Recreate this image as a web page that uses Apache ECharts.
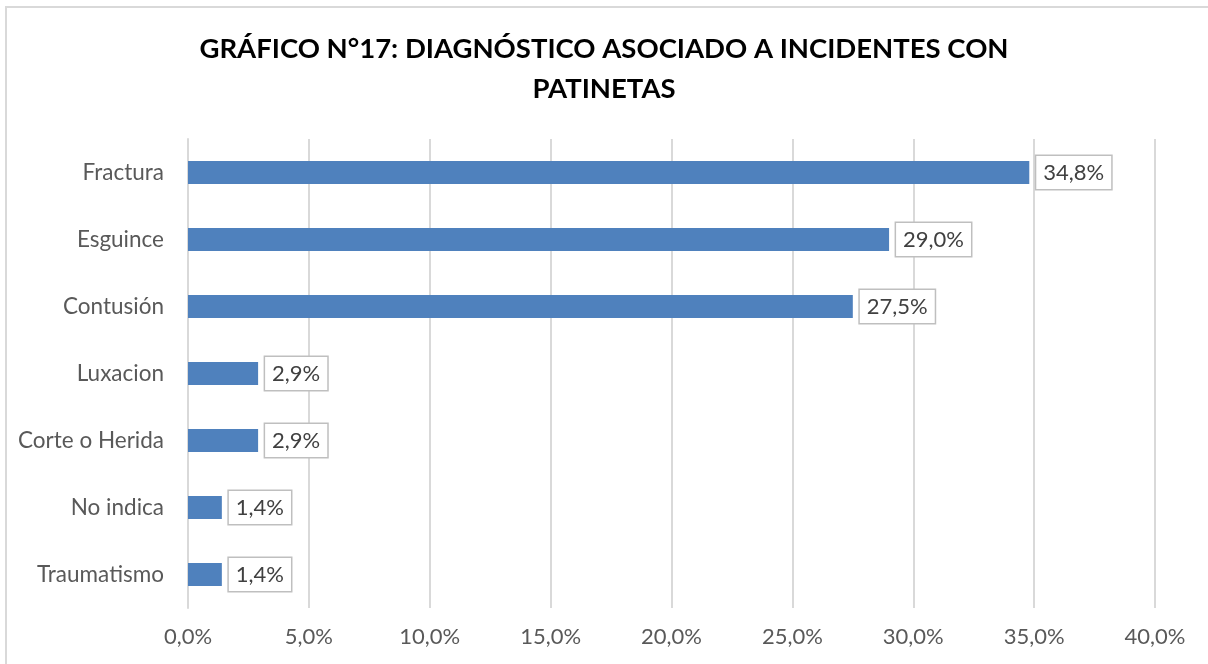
<!DOCTYPE html>
<html><head><meta charset="utf-8">
<script src="https://cdn.jsdelivr.net/npm/echarts@6/dist/echarts.min.js"></script>
<style>html,body{margin:0;padding:0;background:#fff}#c{width:1208px;height:664px}</style>
</head><body><div id="c"></div>
<script>
const categories = ['Fractura','Esguince','Contusión','Luxacion','Corte o Herida','No indica','Traumatismo'];
const values = [34.8, 29.0, 27.5, 2.9, 2.9, 1.4, 1.4];
const xTicks = [0,5,10,15,20,25,30,35,40];
const titleText = 'GRÁFICO N°17: DIAGNÓSTICO ASOCIADO A INCIDENTES CON\nPATINETAS';

const fmt = v => v.toFixed(1).replace('.', ',') + '%';
const chart = echarts.init(document.getElementById('c'), null, {renderer:'canvas'});
chart.setOption({
  animation:false,
  backgroundColor:'#fff',
  graphic:[{type:'rect', shape:{x:6,y:7,width:1400,height:800}, style:{fill:'none', stroke:'#d9d9d9', lineWidth:2}, silent:true}],
  title:{text:titleText, left:'center', top:24, textStyle:{fontFamily:'Lato', fontWeight:'bold', fontSize:27.5, color:'#000', lineHeight:40}},
  grid:{left:188, right:53, top:139, height:469, containLabel:false},
  xAxis:{type:'value', min:xTicks[0], max:xTicks[xTicks.length-1], interval:5,
    axisLine:{show:false}, axisTick:{show:false},
    splitLine:{lineStyle:{color:'#d9d9d9', width:2}},
    axisLabel:{formatter:fmt, fontFamily:'Lato', fontSize:22, color:'#595959', margin:18}},
  yAxis:{type:'category', data:categories, inverse:true,
    axisLine:{show:true, lineStyle:{color:'#d9d9d9', width:2}}, axisTick:{show:false},
    axisLabel:{fontFamily:'Lato', fontSize:22.5, color:'#595959', margin:24}},
  series:[{type:'bar', data:values, barWidth:23, itemStyle:{color:'#4f81bd'},
    label:{show:true, position:'right', distance:7, formatter:p=>fmt(p.value),
      fontFamily:'Lato', fontSize:22, color:'#404040', backgroundColor:'#fff',
      borderColor:'#bfbfbf', borderWidth:1.5, padding:[6,7,5,7]}}]
});
</script></body></html>
